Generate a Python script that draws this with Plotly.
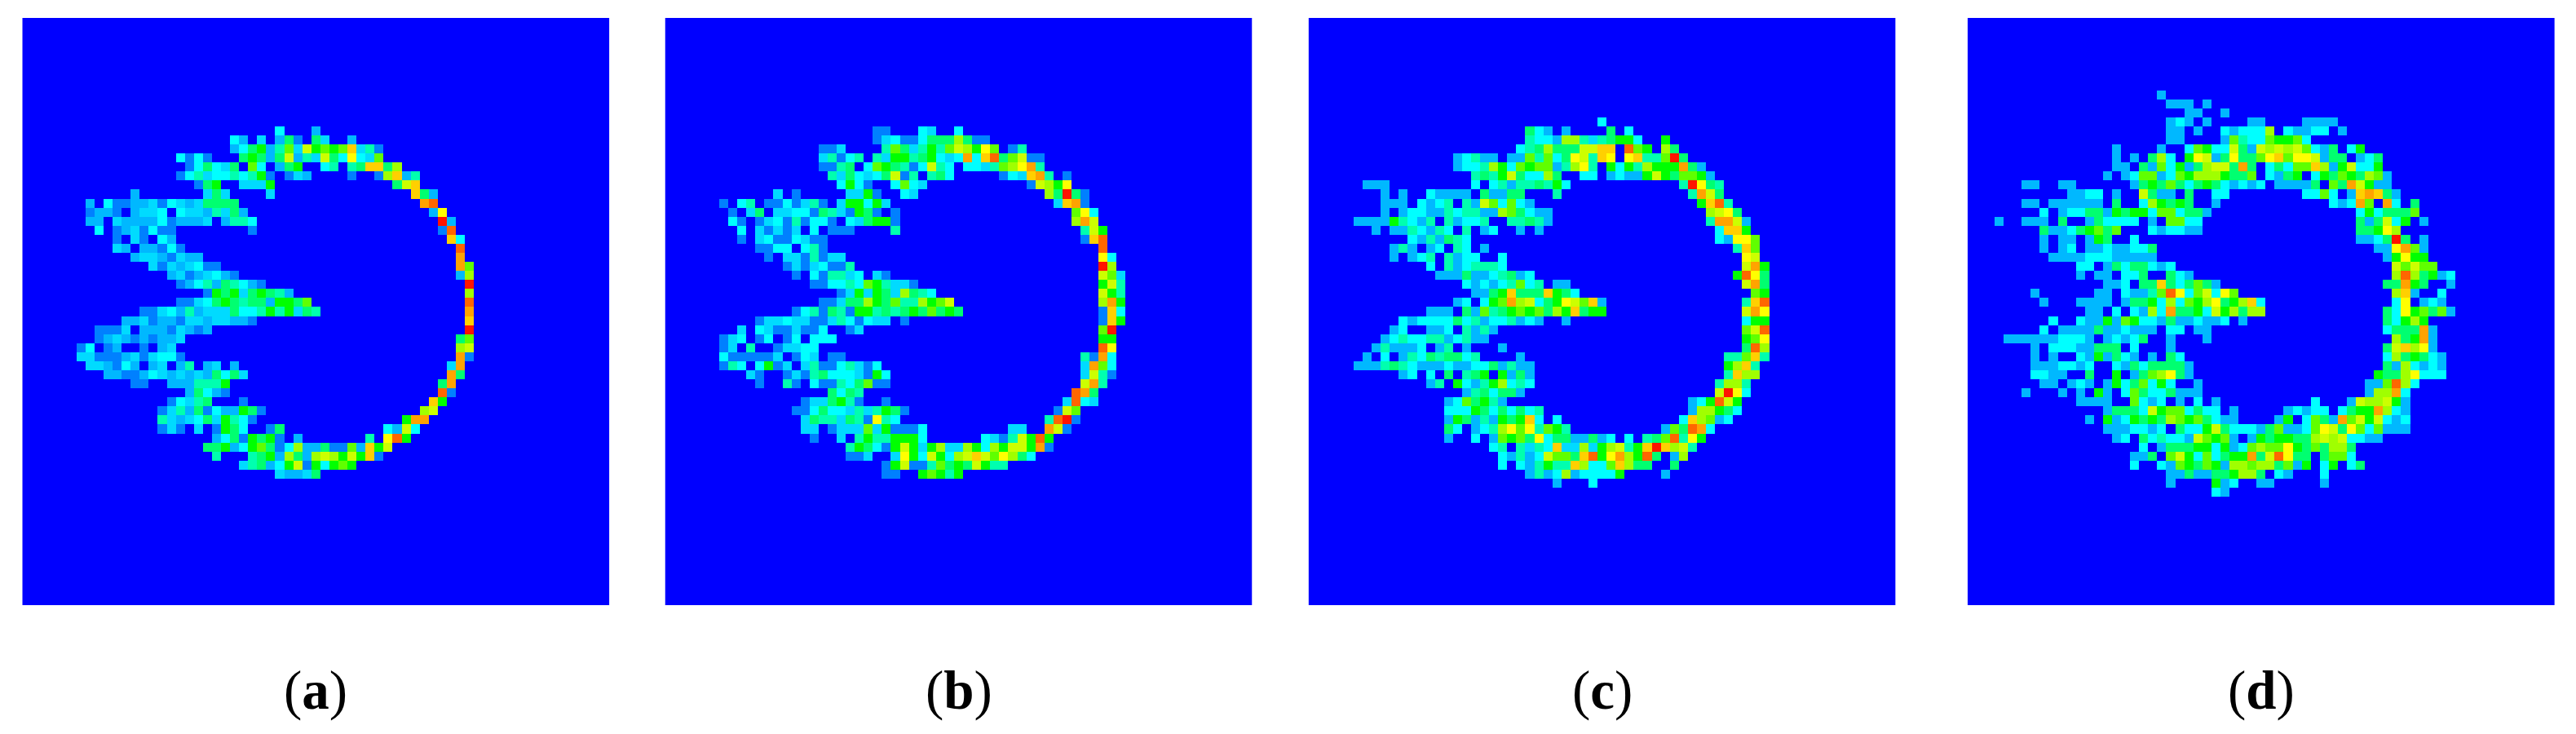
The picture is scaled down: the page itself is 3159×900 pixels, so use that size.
import plotly.graph_objects as go

W, H = 3159, 900
N = 65
LEFTS = [27.3, 815.5, 1604.6, 2412.8]
TOP = 22
SIZE = 720
LABELS = ["a", "b", "c", "d"]

# colour level symbols -> normalised intensity
LEVELS = {".": 0.0, "1": 0.125, "2": 0.18, "3": 0.215, "4": 0.25, "5": 0.328, "6": 0.39, "7": 0.5,
          "8": 0.594, "9": 0.657, "a": 0.70, "b": 0.75, "c": 0.796, "d": 0.84, "e": 0.90, "f": 0.98}
COLORSCALE = [[0, "#0000ff"], [0.25, "#00ffff"], [0.5, "#00ff00"], [0.75, "#ffff00"], [1, "#ff0000"]]

# (row, first column, intensity symbols)
PANEL_A = [
 (12,28,"4"),(12,32,"2"),
 (13,23,"42"),(13,26,"3"),(13,28,"261"),(13,32,"63"),(13,36,"2"),
 (14,23,"24672583a7878c351"),
 (15,17,"4141...67626a253a64b438"),
 (16,18,"146436.84.267..45.56cc69"),
 (17,17,"14534454571.132....1..19c25"),
 (18,19,"167..3337"),(18,41,"6ac"),
 (19,12,"2"),(19,20,"363"),(19,27,"3"),(19,43,"c62"),
 (20,7,"2.411223143236666"),(20,44,"de"),
 (21,7,"1221.2334.43325362"),(21,45,"2b"),
 (22,7,"22.32222412223.2554"),(22,46,"f2"),
 (23,8,"4.1231411"),(23,25,"1"),(23,46,"1e"),
 (24,10,"1.31.42"),(24,47,"c4"),
 (25,10,"32.22141"),(25,48,"e"),
 (26,12,"23321322"),(26,48,"d"),
 (27,14,"31323411"),(27,48,"d8"),
 (28,16,"23123421"),(28,48,"29"),
 (29,17,"1245265421"),(29,49,"f"),
 (30,20,"1767367652"),(30,49,"9"),
 (31,17,"113467656627768"),(31,49,"e"),
 (32,13,"11342523336445757365"),(32,49,"d"),
 (33,11,"223122133233221"),(33,49,"c"),
 (34,8,"1113.22213212"),(34,49,"f"),
 (35,8,"1232121223"),(35,48,"68"),
 (36,6,"14.12..1.23"),(36,48,"9a"),
 (37,6,"331112313441"),(37,48,"d1"),
 (38,7,"332142.23.25.23.2"),(38,47,"3d"),
 (39,9,"2211243232326463"),(39,47,"d6"),
 (40,12,"11"),(40,16,"2225557"),(40,46,"6d"),
 (41,18,"26421"),(41,46,"e1"),
 (42,16,"14356"),(42,24,"1"),(42,45,"c7"),
 (43,15,"135261422761"),(43,44,"9a"),
 (44,15,"53234637541"),(44,42,"7dd"),
 (45,15,"131.3.1764"),(45,27,"16"),(45,40,"42a4"),
 (46,21,"24617671.2"),(46,38,"5.be7"),
 (47,20,"667247861492261182c7a"),
 (48,21,"5"),(48,25,"56729629a97a7c1"),
 (49,24,"356247a174787"),
 (50,28,"32236"),
]

PANEL_B = [
 (12,23,"11"),(12,28,"43"),(12,32,"4"),
 (13,23,"1341146669611"),
 (14,17,"113"),(14,24,"58635758a97b8.15"),
 (15,17,"35145.5377567434d4ce68a11"),
 (16,17,"1156.4876514a54.443589bd5"),
 (17,18,"5364346a15.564"),(17,37,"143cd5.1"),
 (18,19,"4741"),(18,25,"4843"),(18,40,"1a97b"),
 (19,12,"3.1"),(19,20,"3371"),(19,26,"43"),(19,42,"96f61"),
 (20,6,"1.45.1141351.377473"),(20,43,"3cd1"),
 (21,7,"1.36.334416531761.1"),(21,45,"8b4"),
 (22,7,"41.134151441.436771"),(22,45,"9da"),
 (23,8,"4.31313.4.111"),(23,25,"5"),(23,46,"5a7"),
 (24,8,"1.34114311"),(24,46,"1ce"),
 (25,10,"1144.451"),(25,48,"e"),
 (26,11,"1.3315133"),(26,48,"b4"),
 (27,13,"13134115"),(27,48,"f9"),
 (28,14,"1.415534.31"),(28,48,"a83"),
 (29,16,"114454875331"),(29,48,"7a5"),
 (30,19,"13737639654"),(30,48,"a75"),
 (31,17,"11366976855978a"),(31,48,"9d7"),
 (32,14,"1451651775656768676"),(32,48,"1c4"),
 (33,10,"133433113541433.1"),(33,48,"1c7"),
 (34,8,"3.43113114"),(34,20,"13"),(34,48,"8f"),
 (35,6,"134.14.14.444"),(35,48,"77"),
 (36,6,"13.5..13344"),(36,48,"eb"),
 (37,6,"4111113.143.11"),(37,46,"51d4"),
 (38,6,"154.4713.351145314"),(38,46,"3d84"),
 (39,9,"31"),(39,13,"131564443174"),(39,46,"3a51"),
 (40,10,"1"),(40,13,"51.411546811"),(40,46,"ad5"),
 (41,18,"6465"),(41,45,"ed6"),
 (42,15,"1336751"),(42,24,"1"),(42,44,"3e43"),
 (43,14,"1146443535761"),(43,43,"1a8"),
 (44,15,"36553651b54"),(44,42,"5ef1"),
 (45,15,"33.13338371114"),(45,38,"33"),(45,42,"da1"),
 (46,16,"1"),(46,19,"3.57557774"),(46,35,"4315a7e7"),
 (47,20,"576417a73793397497aa7d1"),
 (48,20,"113"),(48,25,"3b74a749aca8b964"),
 (49,24,"17a1158676a755"),
 (50,24,"11"),(50,28,"78757"),
]

PANEL_C = [
 (11,32,"4"),
 (12,24,"642.2"),(12,33,"6.4"),
 (13,24,"5442995356774"),(13,39,"7"),
 (14,23,"4569666aacc.e87.96"),
 (15,16,"24522.2285846ba5cb.bc558f6"),
 (16,16,"24459748788259b5.74759777d62"),
 (17,18,"5657a64496..44.24227a768872"),
 (18,6,"222"),(18,18,"4.452556574"),(18,41,"5fb65"),
 (19,8,"2.2"),(19,13,"42222.62266"),(19,27,"5"),(19,42,"5da6"),
 (20,8,"222"),(20,12,"4245.52a84842"),(20,43,"7ce5"),
 (21,8,"2.24422545522986422"),(21,44,"9ab6"),
 (22,5,"222275425.52445..55652"),(22,44,"5dda2"),
 (23,7,"2.2254254.5.24..2.2"),(23,45,"4cc7"),
 (24,11,"4252654"),(24,45,"42bb8"),
 (25,9,"252.24.54.2"),(25,47,"5c8"),
 (26,9,"2.245.5244"),(26,21,"4"),(26,48,"ba"),
 (27,13,"4.5245554"),(27,48,"ad7"),
 (28,14,"22262245624"),(28,47,"7eb6"),
 (29,17,"424245845"),(29,27,"22"),(29,48,"ad6"),
 (30,18,"2267c666c764"),(30,49,"87"),
 (31,16,"24.478d9a467ba8c2"),(31,48,"5ce"),
 (32,13,"222.628567878697c677"),(32,48,"adb"),
 (33,10,"4244446452445242"),(33,28,"2"),(33,48,"477"),
 (34,9,"24..224.5252"),(34,48,"8ae"),
 (35,8,"245445524522"),(35,48,"78b"),
 (36,7,"252224.25.2"),(36,21,"2"),(36,48,"6e9"),
 (37,6,"2.4.254656645"),(37,23,"2"),(37,46,"558c5"),
 (38,5,"22256542224224462522"),(38,46,"79c5"),
 (39,10,"24.4.6.567.7262"),(39,46,"5c99"),
 (40,13,"25.742579454"),(40,45,"5995"),
 (41,17,"2564662"),(41,45,"afb4"),
 (42,15,"2486752"),(42,42,"247ea7"),
 (43,15,"44476464645"),(43,42,"299764"),
 (44,15,"276252767c4.4"),(44,41,"4c9824"),
 (45,15,"64.2459b8b5875"),(45,39,"286ed4"),
 (46,15,"2"),(46,18,"4.28786b46622624.4.568e5b7"),
 (47,20,"45.5354c339379a57cfc9a5"),
 (48,21,"42524a886ce7bd97e6.29"),
 (49,21,"4.425755c9448c966"),(49,40,"6"),
 (50,24,"25249244447"),(50,39,"2"),
 (51,27,"2"),(51,31,"4"),
]

PANEL_D = [
 (8,21,"2"),
 (9,22,"222.2"),
 (10,24,"22"),(10,28,"2"),
 (11,22,"242.2"),(11,31,"22"),(11,37,"2222"),
 (12,22,"22.2"),(12,28,"424449.42244.2"),
 (13,22,"22"),(13,28,"2854487784"),
 (14,16,"2"),(14,21,"2"),(14,24,"48744a62a9a9a8426.47"),
 (15,16,"2.2.694.7ba26b668bc8bba266.246"),
 (16,16,"22.62847269aa6d6.46488c927a447"),
 (17,15,"2.248824879997668.4267.476876982"),
 (18,6,"22"),(18,10,"22"),(18,18,"267686467642424.22226.86da722"),
 (19,11,"2244"),(19,16,"2"),(19,19,"a622.6..44"),(19,37,"4484.2cdc62"),
 (20,6,"22"),(20,9,"222222"),(20,16,"6"),(20,19,"497676"),(20,27,"2"),(20,40,"424d8.d4.6"),
 (21,8,"4.24466276774884662"),(21,43,"4746668"),
 (22,3,"2"),(22,6,"222.6..264444.2.8844"),(22,43,"626a47.2"),
 (23,8,"622467868"),(23,20,"424422"),(23,43,"667b9"),
 (24,8,"2.22.276"),(24,18,"4"),(24,43,"2246f6.2"),
 (25,8,"2.24.22422446"),(25,45,"22bd82"),
 (26,9,"222244422222"),(26,46,"27b77"),
 (27,12,"44.26466424"),(27,47,"a8a88"),
 (28,12,"2.22.446..642"),(28,47,"9e96724"),
 (29,15,"224.66c646862"),(29,46,"66d76..2"),
 (30,7,"2"),(30,14,"22.42258eb48a4b8"),(30,47,"9c2..4"),
 (31,8,"2"),(31,12,"2222.2667494879b679c4"),(31,47,"4b.242"),
 (32,13,"22.4.4294d6674a79699"),(32,46,"64b78682"),
 (33,9,"4"),(33,12,"42272874426224224.2"),(33,46,"64797"),
 (34,8,"4.22226224222.44.22"),(34,46,"4666d2"),
 (35,4,"2222224442.24246"),(35,22,"2"),(35,26,"2"),(35,47,"967d2"),
 (36,7,"2.44422666.4"),(36,22,"2"),(36,46,"6ac9b2"),
 (37,7,"2.2..4272642.2.64"),(37,46,"4967642"),
 (38,7,"2224424..426466662"),(38,46,"6294242"),
 (39,7,"4422..6..7.2689b62"),(39,45,"7669b444"),
 (40,8,"22.242.27468474..2"),(40,44,"228e94"),
 (41,6,"2"),(41,10,"2"),(41,12,"2.72.486446222"),(41,44,"299d4"),
 (42,12,"2222"),(42,18,"8424.2.4.2"),(42,38,"4"),(42,42,"2a99a72"),
 (43,15,"26664a7884644.2"),(43,35,"24244.4677d942"),
 (44,13,"2"),(44,15,"724767698786422"),(44,34,"27.4862d8a7a424"),
 (45,15,"2224424.6447a64442682248ba6b848222"),
 (46,16,"24.645442a8782.27677669a9a4422"),
 (47,19,"4.26667747248988b7686996"),
 (48,18,"226.8a7484677d6aeb66.6884"),
 (49,18,"4"),(49,21,"42876872998996827.47.46"),
 (50,22,"22622667996.42"),(50,39,"4"),
 (51,22,"2"),(51,27,"724"),(51,32,"22"),(51,39,"2"),
 (52,27,"42"),
]

PANELS = [PANEL_A, PANEL_B, PANEL_C, PANEL_D]


def grid(segments):
    z = [[0.0] * N for _ in range(N)]
    for row, col, symbols in segments:
        for i, s in enumerate(symbols):
            if s != ".":
                z[row][col + i] = LEVELS[s]
    return z


fig = go.Figure()
annotations = []
layout_axes = {}
for i, (segments, left, label) in enumerate(zip(PANELS, LEFTS, LABELS), start=1):
    fig.add_trace(go.Heatmap(z=grid(segments), zmin=0, zmax=1, colorscale=COLORSCALE, showscale=False,
                             xaxis=f"x{i}", yaxis=f"y{i}", hoverinfo="skip"))
    layout_axes[f"xaxis{i}"] = dict(domain=[left / W, (left + SIZE) / W], range=[-0.5, N - 0.5], visible=False,
                                    anchor=f"y{i}", fixedrange=True)
    layout_axes[f"yaxis{i}"] = dict(domain=[1 - (TOP + SIZE) / H, 1 - TOP / H], range=[N - 0.5, -0.5], visible=False,
                                    anchor=f"x{i}", fixedrange=True)
    annotations.append(dict(text=f"(<b>{label}</b>)", x=(left + SIZE / 2) / W, y=1 - 846 / H, xref="paper", yref="paper",
                            showarrow=False, xanchor="center", yanchor="middle",
                            font=dict(family="Liberation Serif", size=67, color="black")))

fig.update_layout(width=W, height=H, autosize=False, margin=dict(l=0, r=0, t=0, b=0),
                  paper_bgcolor="white", plot_bgcolor="white", annotations=annotations, **layout_axes)
fig.write_html("out.html", config={"displayModeBar": False},
               post_script="document.body.style.margin='0';document.body.style.overflow='hidden';")
